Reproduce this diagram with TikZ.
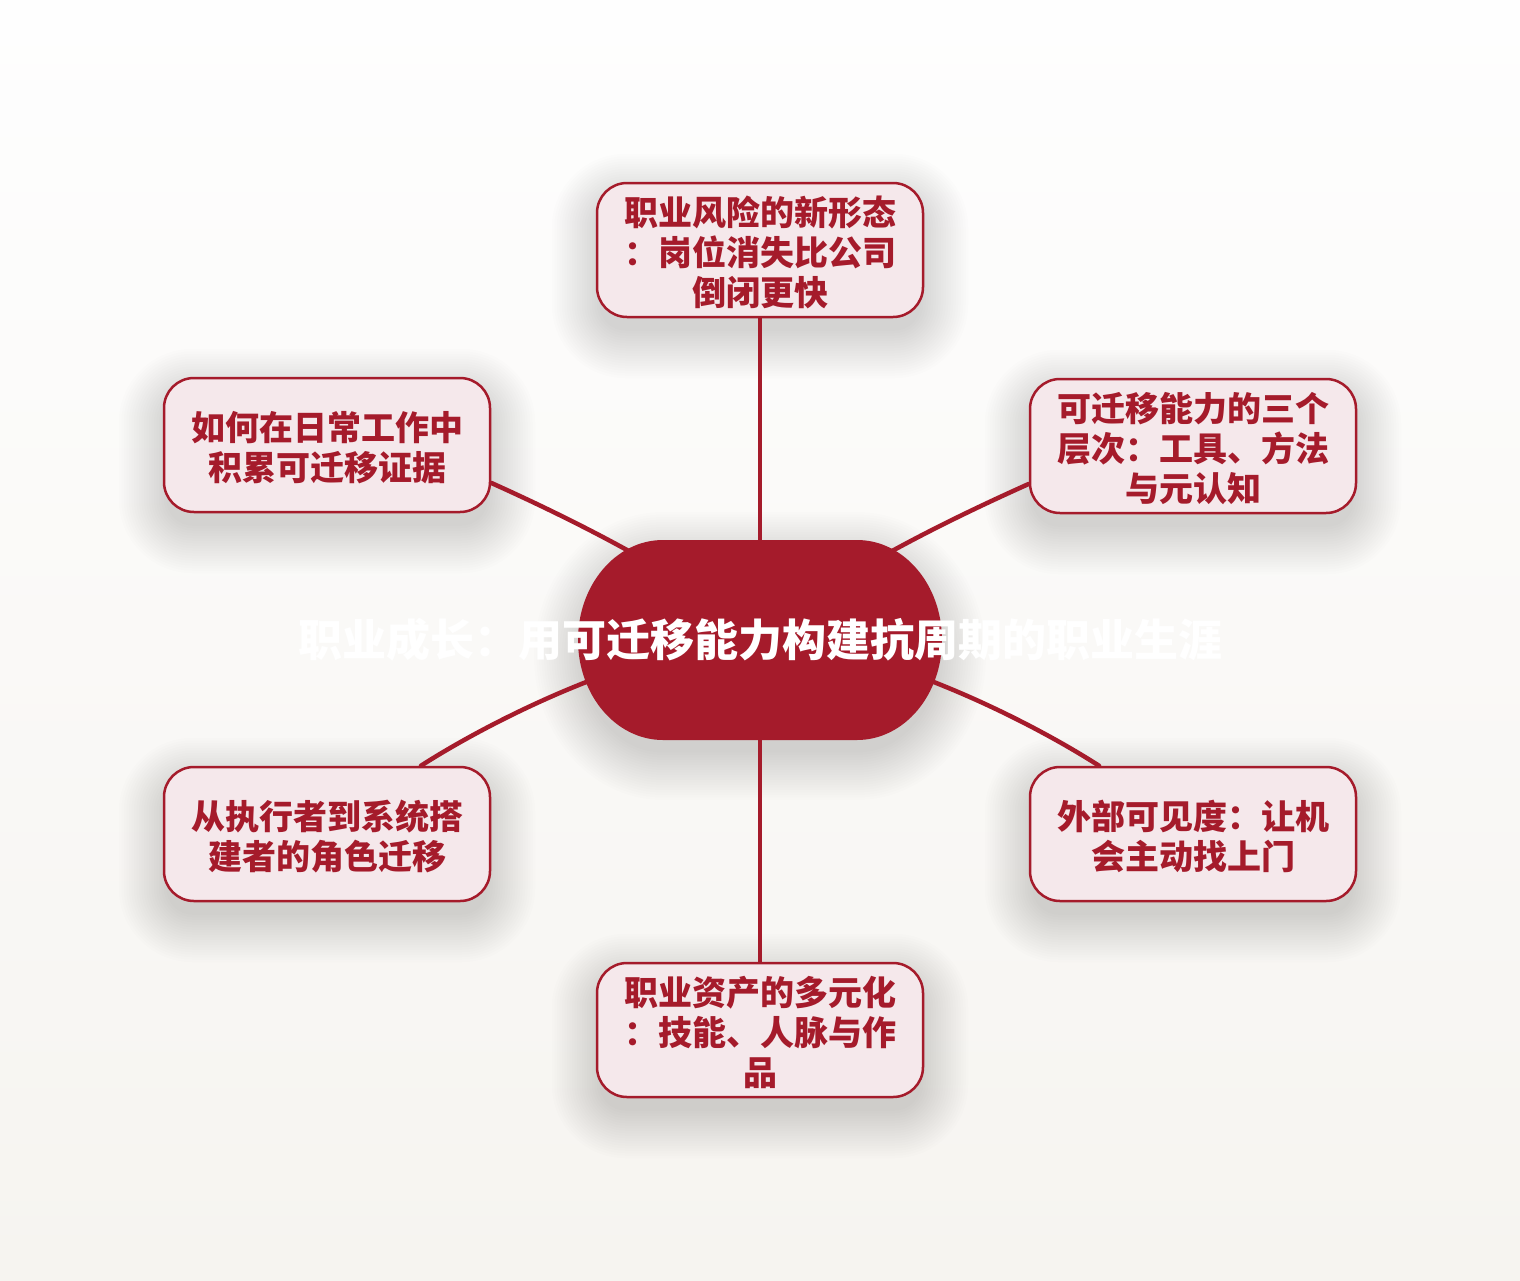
\documentclass[tikz,border=0pt]{standalone}
\usepackage{fontspec}
\setmainfont{Noto Sans CJK SC}
\usetikzlibrary{calc}
\definecolor{crim}{HTML}{A51B2B}
\definecolor{pinkfill}{HTML}{F5E8EB}
\definecolor{bgtop}{HTML}{FEFEFE}
\definecolor{bgbot}{HTML}{F6F4F0}
\pgfdeclarelayer{back}
\pgfdeclarelayer{shadow}
\pgfdeclarelayer{lines}
\pgfsetlayers{back,shadow,lines,main}
\newcommand\leadstrut{\rule{0pt}{35pt}}
\tikzset{
  leaf/.style={draw=crim, line width=2.5pt, fill=pinkfill, rounded corners=30pt,
    minimum width=326pt, minimum height=134pt, inner sep=0pt, align=center,
    text=crim, font=\bfseries\fontsize{34}{40}\selectfont},
  hub/.style={inner sep=0pt, text=white, font=\bfseries\fontsize{44}{52}\selectfont},
  link/.style={draw=crim, line width=4.5pt, line cap=round},
  shadowfill/.style={fill=black, opacity=0.009},
}
% stadium: #1 options, #2 cx, #3 cy, #4 half width, #5 half height, #6 x radius
\newcommand\stadiumshape[6]{%
  \pgfmathsetmacro\sL{(#2)-(#4)+(#6)}%
  \pgfmathsetmacro\sR{(#2)+(#4)-(#6)}%
  \pgfmathsetmacro\sT{(#3)-(#5)}%
  \pgfmathsetmacro\sB{(#3)+(#5)}%
  \pgfmathsetmacro\sXl{(#2)-(#4)}%
  \pgfmathsetmacro\sXr{(#2)+(#4)}%
  \pgfmathsetmacro\kx{0.5523*(#6)}%
  \pgfmathsetmacro\ky{0.5523*(#5)}%
  \path[#1] (\sL,\sT) -- (\sR,\sT)
    .. controls ({\sR+\kx},\sT) and (\sXr,{#3-\ky}) .. (\sXr,#3)
    .. controls (\sXr,{#3+\ky}) and ({\sR+\kx},\sB) .. (\sR,\sB)
    -- (\sL,\sB)
    .. controls ({\sL-\kx},\sB) and (\sXl,{#3+\ky}) .. (\sXl,#3)
    .. controls (\sXl,{#3-\ky}) and ({\sL-\kx},\sT) .. (\sL,\sT) -- cycle;%
}
\begin{document}
\begin{tikzpicture}[x=1pt,y=-1pt]
\useasboundingbox (0,0) rectangle (1520,1280);
\begin{pgfonlayer}{back}
  \shade[top color=bgtop, bottom color=bgbot] (0,0) rectangle (1520,1280);
\end{pgfonlayer}

% central shape
\stadiumshape{fill=crim}{760}{640}{182}{100}{85}
\node[hub] (c) at (760,640) {职业成长：用可迁移能力构建抗周期的职业生涯};

% satellites
\node[leaf] (t)  at (760,250)  {\leadstrut 职业风险的新形态\\：岗位消失比公司\\倒闭更快};
\node[leaf] (ur) at (1193,446) {\leadstrut 可迁移能力的三个\\层次：工具、方法\\与元认知};
\node[leaf] (lr) at (1193,834) {\leadstrut 外部可见度：让机\\会主动找上门};
\node[leaf] (b)  at (760,1030) {\leadstrut 职业资产的多元化\\：技能、人脉与作\\品};
\node[leaf] (ll) at (327,834)  {\leadstrut 从执行者到系统搭\\建者的角色迁移};
\node[leaf] (ul) at (327,445)  {\leadstrut 如何在日常工作中\\积累可迁移证据};

% shadows
\begin{pgfonlayer}{shadow}
  \foreach \n in {t,ur,lr,b,ll,ul}{
    \foreach \i in {1,...,20}{
      \pgfmathsetmacro\e{2.5*\i-6}
      \pgfmathsetmacro\rr{max(30+2.5*\i-6,4)}
      \fill[shadowfill, rounded corners=\rr pt]
        ($(\n.north west)+(-\e,-\e+16)$) rectangle ($(\n.south east)+(\e,\e+16)$);
    }
  }
  \foreach \i in {1,...,20}{
    \pgfmathsetmacro\e{2.5*\i-6}
    \stadiumshape{shadowfill}{760}{656}{182+\e}{100+\e}{85+\e}
  }
\end{pgfonlayer}

% connectors
\begin{pgfonlayer}{lines}
  \draw[link] (t.south) -- (c.center);
  \draw[link] (b.north) -- (c.center);
  \draw[link] (ul.-13) .. controls +(60,27) and +(-70,-65) .. (c.center);
  \draw[link] (ur.193) .. controls +(-60,27) and +(70,-65) .. (c.center);
  \draw[link] (ll.36) .. controls +(70,-45) and +(-120,5) .. (c.center);
  \draw[link] (lr.144) .. controls +(-70,-45) and +(120,5) .. (c.center);
\end{pgfonlayer}
\end{tikzpicture}
\end{document}
